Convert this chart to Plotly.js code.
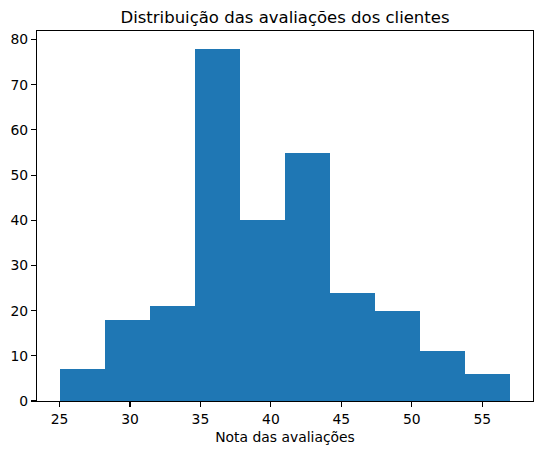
<!DOCTYPE html>
<html>
<head>
<meta charset="utf-8">
<script src="https://cdn.plot.ly/plotly-3.0.1.min.js"></script>
<style>html,body{margin:0;padding:0;background:#fff;}#chart{width:543px;height:455px;}</style>
</head>
<body>
<div id="chart"></div>
<script>
const binEdges = [25.0, 28.2, 31.4, 34.6, 37.8, 41.0, 44.2, 47.4, 50.6, 53.8, 57.0];
const counts = [7, 18, 21, 78, 40, 55, 24, 20, 11, 6];
const xTicks = [25, 30, 35, 40, 45, 50, 55];
const yTicks = [0, 10, 20, 30, 40, 50, 60, 70, 80];

const centers = counts.map((c, i) => (binEdges[i] + binEdges[i + 1]) / 2);
const widths = counts.map((c, i) => binEdges[i + 1] - binEdges[i]);
const span = binEdges[binEdges.length - 1] - binEdges[0];
const maxC = Math.max(...counts);

const font = {family: 'DejaVu Sans, sans-serif', color: '#000'};

Plotly.newPlot('chart', [{
  type: 'bar',
  x: centers,
  y: counts,
  width: widths,
  marker: {color: '#1f77b4', line: {width: 0}},
  hoverinfo: 'x+y'
}], {
  width: 543, height: 455,
  margin: {l: 37, r: 10, t: 31, b: 54, pad: 0},
  paper_bgcolor: '#fff', plot_bgcolor: '#fff',
  bargap: 0,
  showlegend: false,
  title: {text: 'Distribuição das avaliações dos clientes', font: Object.assign({size: 16.5}, font),
          x: 0.5, xref: 'paper', xanchor: 'center', y: 1 - 17 / 455, yref: 'container', yanchor: 'middle'},
  xaxis: {
    range: [binEdges[0] - 0.05 * span, binEdges[binEdges.length - 1] + 0.05 * span],
    tickvals: xTicks, ticktext: xTicks.map(String),
    ticks: 'outside', ticklen: 5, tickwidth: 1.1, tickcolor: '#000',
    showline: true, linecolor: '#000', linewidth: 1.1, mirror: true,
    showgrid: false, zeroline: false,
    tickfont: Object.assign({size: 13.9}, font),
    title: {text: 'Nota das avaliações', font: Object.assign({size: 13.9}, font), standoff: 6}
  },
  yaxis: {
    range: [0, maxC * 1.05],
    tickvals: yTicks, ticktext: yTicks.map(String),
    ticks: 'outside', ticklen: 5, tickwidth: 1.1, tickcolor: '#000',
    showline: true, linecolor: '#000', linewidth: 1.1, mirror: true,
    showgrid: false, zeroline: false,
    tickfont: Object.assign({size: 13.9}, font)
  }
}, {displayModeBar: false, staticPlot: true});
</script>
</body>
</html>
